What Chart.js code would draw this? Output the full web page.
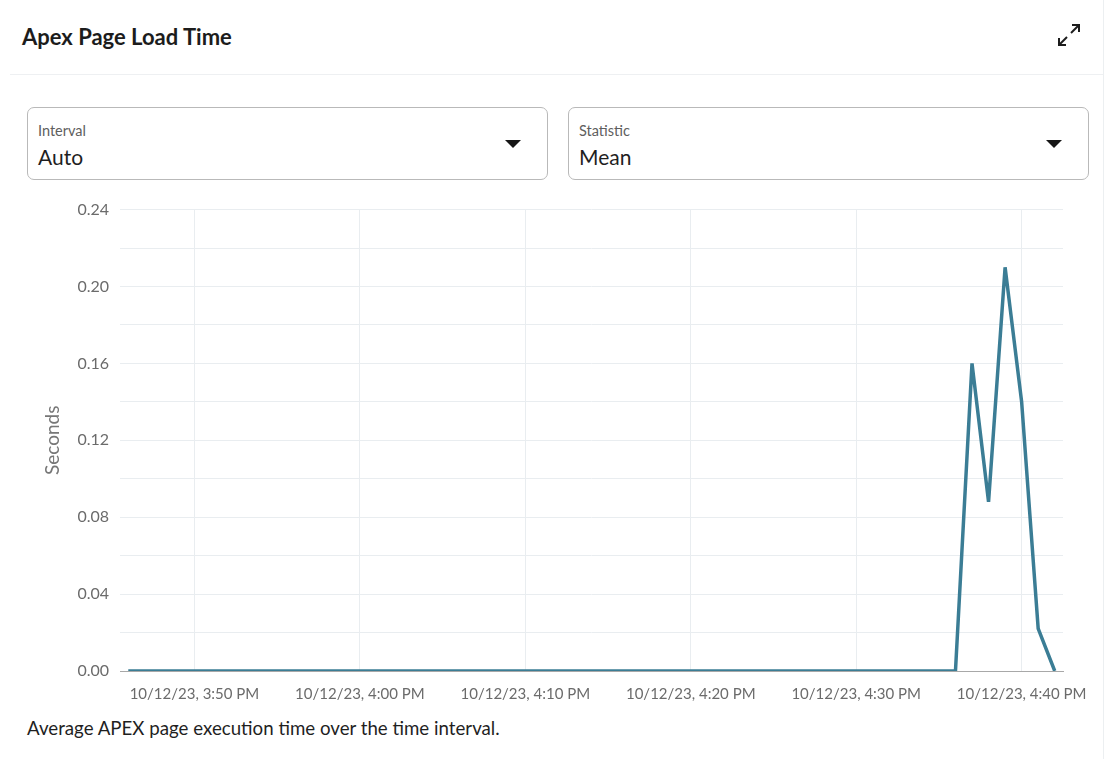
<!DOCTYPE html>
<html>
<head>
<meta charset="utf-8">
<script src="https://cdn.jsdelivr.net/npm/chart.js@4.4.0/dist/chart.umd.min.js"></script>
<style>
  body { margin: 0; background: #fff; font-family: Lato, "Open Sans", sans-serif; }
  .card { position: relative; width: 1104px; height: 759px; border-right: 1px solid #eceff1; box-sizing: border-box; }
  .title { position: absolute; left: 22px; top: 23px; font-size: 22px; font-weight: bold; color: #1c1c1c; }
  .expand { position: absolute; left: 1056px; top: 22px; }
  .sep { position: absolute; left: 10px; right: 0; top: 74px; border-top: 1px solid #eef0f2; }
  .select { position: absolute; top: 107px; width: 521px; height: 73px; border: 1px solid #b9b9b9; border-radius: 7px; box-sizing: border-box; }
  .select .lab { position: absolute; left: 10px; top: 14px; font-size: 14.5px; color: #5e5e5e; }
  .select .val { position: absolute; left: 10px; top: 36px; font-size: 21px; color: #1f1f1f; }
  .select .arrow { position: absolute; right: 26px; top: 32px; width: 0; height: 0; border-left: 8px solid transparent; border-right: 8px solid transparent; border-top: 8px solid #161616; }
  .wrap { position: absolute; left: 30px; top: 189px; width: 1074px; height: 528px; }
  .caption { position: absolute; left: 27px; top: 717px; font-size: 18.7px; color: #1f1f1f; }
</style>
</head>
<body>
<div class="card">
  <div class="title">Apex Page Load Time</div>
  <svg class="expand" width="26" height="26" viewBox="0 0 26 26">
    <g stroke="#1c1c1c" stroke-width="2" fill="none">
      <line x1="15" y1="11" x2="23" y2="3"/>
      <polyline points="16,3 23,3 23,10"/>
      <line x1="11" y1="15" x2="3" y2="23"/>
      <polyline points="3,16 3,23 10,23"/>
    </g>
  </svg>
  <div class="sep"></div>
  <div class="select" style="left:27px"><div class="lab">Interval</div><div class="val">Auto</div><div class="arrow"></div></div>
  <div class="select" style="left:568px"><div class="lab">Statistic</div><div class="val">Mean</div><div class="arrow"></div></div>
  <div class="wrap"><canvas id="chart"></canvas></div>
  <div class="caption">Average APEX page execution time over the time interval.</div>
</div>
<script>
// one sample per minute, 3:46 PM .. 4:42 PM on 10/12/23
const startMinute = 15 * 60 + 46;
const seconds = [
  0, 0, 0, 0, 0, 0, 0, 0, 0, 0,
  0, 0, 0, 0, 0, 0, 0, 0, 0, 0,
  0, 0, 0, 0, 0, 0, 0, 0, 0, 0,
  0, 0, 0, 0, 0, 0, 0, 0, 0, 0,
  0, 0, 0, 0, 0, 0, 0, 0, 0, 0,
  0, 0.16, 0.088, 0.21, 0.14, 0.022, 0
];
const xTickMinutes = [950, 960, 970, 980, 990, 1000];
const yTicks = [0, 0.04, 0.08, 0.12, 0.16, 0.20, 0.24];

function fmtTime(m) {
  let h = Math.floor(m / 60), mm = m % 60;
  const ap = h >= 12 ? "PM" : "AM";
  h = h % 12 || 12;
  return `10/12/23, ${h}:${String(mm).padStart(2, "0")} ${ap}`;
}

const points = seconds.map((v, i) => ({ x: startMinute + i, y: v }));
const gridColor = "#e9edf0";
const tickColor = "#6b6b6b";

new Chart(document.getElementById("chart"), {
  type: "line",
  data: {
    datasets: [{
      label: "Seconds",
      data: points,
      borderColor: "#3b7d95",
      borderWidth: 3.5,
      pointRadius: 0,
      tension: 0,
      fill: false
    }]
  },
  options: {
    responsive: true,
    maintainAspectRatio: false,
    animation: false,
    layout: { padding: { top: 2, right: 41, bottom: 0, left: 0 } },
    plugins: { legend: { display: false }, tooltip: { enabled: false } },
    scales: {
      x: {
        type: "linear",
        min: startMinute - 0.5,
        max: startMinute + seconds.length - 0.5,
        afterBuildTicks: s => { s.ticks = xTickMinutes.map(v => ({ value: v })); },
        ticks: {
          color: tickColor,
          font: { family: "Lato", size: 15 },
          padding: 14,
          maxRotation: 0,
          callback: v => fmtTime(v)
        },
        grid: { color: gridColor, drawTicks: false },
        border: { color: "#a8a8a8", width: 1 }
      },
      y: {
        min: 0,
        max: 0.24,
        afterBuildTicks: s => {
          const t = [];
          for (let i = 0; i <= 12; i++) t.push({ value: i * 0.02 });
          s.ticks = t;
        },
        afterFit: s => { s.width = 90; },
        ticks: {
          color: tickColor,
          font: { family: "Lato", size: 16 },
          padding: 11,
          callback: v => {
            const hit = yTicks.find(t => Math.abs(t - v) < 1e-6);
            return hit === undefined ? "" : hit.toFixed(2);
          }
        },
        grid: { color: gridColor, drawTicks: false },
        border: { display: false },
        title: {
          display: true,
          text: "Seconds",
          color: "#777",
          font: { family: "Lato", size: 19 },
          padding: { top: 11 }
        }
      }
    }
  }
});
</script>
</body>
</html>
